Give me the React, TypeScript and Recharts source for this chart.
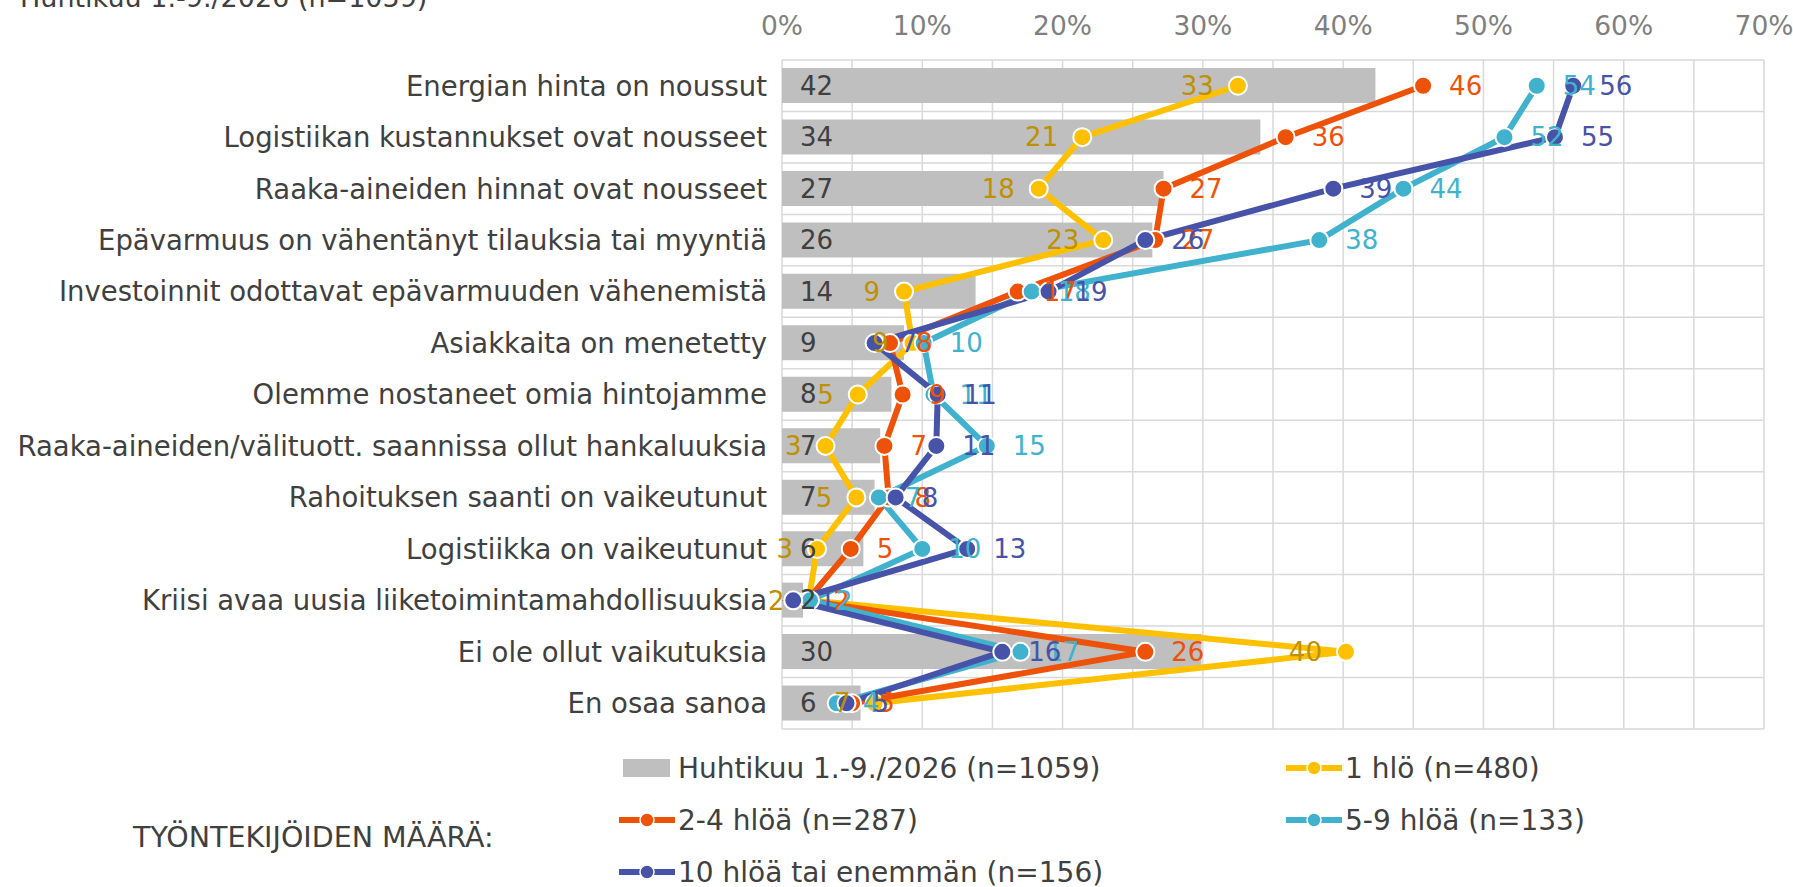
import React from "react";
import {
  Bar,
  CartesianGrid,
  ComposedChart,
  LabelList,
  Legend,
  Line,
  XAxis,
  YAxis,
} from "recharts";

const CATEGORIES = [
  "Energian hinta on noussut",
  "Logistiikan kustannukset ovat nousseet",
  "Raaka-aineiden hinnat ovat nousseet",
  "Epävarmuus on vähentänyt tilauksia tai myyntiä",
  "Investoinnit odottavat epävarmuuden vähenemistä",
  "Asiakkaita on menetetty",
  "Olemme nostaneet omia hintojamme",
  "Raaka-aineiden/välituott. saannissa ollut hankaluuksia",
  "Rahoituksen saanti on vaikeutunut",
  "Logistiikka on vaikeutunut",
  "Kriisi avaa uusia liiketoimintamahdollisuuksia",
  "Ei ole ollut vaikutuksia",
  "En osaa sanoa",
];

// koko aineisto (palkit)
const TOTAL = [42.3, 34.1, 27.2, 26.4, 13.8, 8.7, 7.8, 7.0, 6.6, 5.8, 1.5, 29.9, 5.6];
// työntekijöiden määrän mukaan
const ONE = [32.5, 21.4, 18.3, 22.9, 8.7, 9.3, 5.4, 3.1, 5.3, 2.5, 1.9, 40.2, 6.6];
const TWO_FOUR = [45.7, 35.9, 27.2, 26.6, 16.8, 7.7, 8.6, 7.3, 7.6, 4.9, 1.8, 25.9, 5.0];
const FIVE_NINE = [53.8, 51.5, 44.3, 38.3, 17.8, 10.1, 10.8, 14.6, 6.9, 10.0, 2.0, 17.0, 3.9];
const TEN_PLUS = [56.4, 55.1, 39.3, 25.9, 19.0, 6.6, 11.1, 11.0, 8.1, 13.2, 0.8, 15.7, 4.6];

const X_TICKS = [0, 5, 10, 15, 20, 25, 30, 35, 40, 45, 50, 55, 60, 65, 70];

const BAR_NAME = "Huhtikuu 1.-9./2026 (n=1059)";

const LINES = [
  { key: "one", name: "1 hlö (n=480)", color: "#FFC000", labelColor: "#BF9000", side: "left" },
  { key: "twoFour", name: "2-4 hlöä (n=287)", color: "#EE5208", labelColor: "#EE5208", side: "right" },
  { key: "fiveNine", name: "5-9 hlöä (n=133)", color: "#41B2CD", labelColor: "#41B2CD", side: "right" },
  { key: "tenPlus", name: "10 hlöä tai enemmän (n=156)", color: "#4653A8", labelColor: "#4653A8", side: "right" },
] as const;

const ORDER = ["total", ...LINES.map((l) => l.key)];

const data = CATEGORIES.map((name, i) => ({
  name,
  total: TOTAL[i],
  one: ONE[i],
  twoFour: TWO_FOUR[i],
  fiveNine: FIVE_NINE[i],
  tenPlus: TEN_PLUS[i],
}));

const FONT = '"DejaVu Sans", Verdana, sans-serif';
const TEXT = "#404040";

const roundLabel = (v: unknown) => Math.round(Number(v));

function CategoryTick({ x, y, payload }: any) {
  return (
    <text x={x} y={y} dy="0.36em" textAnchor="end" fill={TEXT} fontSize={27.5} fontFamily={FONT}>
      {payload.value}
    </text>
  );
}

function LegendIcon({ color, isBar }: { color: string; isBar: boolean }) {
  if (isBar) {
    return (
      <svg width={56} height={20}>
        <rect x={4} y={1} width={47} height={18} fill={color} />
      </svg>
    );
  }
  return (
    <svg width={56} height={20}>
      <line x1={0} y1={10} x2={56} y2={10} stroke={color} strokeWidth={6} />
      <circle cx={28} cy={10} r={7} fill={color} stroke="#fff" strokeWidth={1.5} />
    </svg>
  );
}

function renderLegend(props: any) {
  const items = (props.payload ?? [])
    .filter((p: any) => p.type !== "none")
    .sort((a: any, b: any) => ORDER.indexOf(a.dataKey) - ORDER.indexOf(b.dataKey));
  return (
    <div style={{ position: "relative", width: 1793, height: 147, fontFamily: FONT, fontSize: 28, color: TEXT }}>
      <div
        style={{
          position: "absolute",
          left: 133,
          top: 98 - 15,
          lineHeight: "30px",
          fontSize: 28.5,
          whiteSpace: "nowrap",
        }}
      >
        TYÖNTEKIJÖIDEN MÄÄRÄ:
      </div>
      {items.map((item: any, i: number) => {
        const col = i % 2;
        const row = Math.floor(i / 2);
        return (
          <div
            key={item.value}
            style={{
              position: "absolute",
              left: col === 0 ? 619 : 1286,
              top: 28 + row * 52 - 15,
              height: 30,
              display: "flex",
              alignItems: "center",
              gap: 3,
              whiteSpace: "nowrap",
            }}
          >
            <LegendIcon color={item.color} isBar={item.dataKey === "total"} />
            <span>{item.value}</span>
          </div>
        );
      })}
    </div>
  );
}

export default function App() {
  return (
    <div
      style={{
        position: "absolute",
        left: 0,
        top: 0,
        width: 1793,
        height: 887,
        background: "#fff",
        overflow: "hidden",
        fontFamily: FONT,
      }}
    >
      <div
        style={{
          position: "absolute",
          left: 20,
          top: -15,
          fontSize: 27,
          lineHeight: "26px",
          color: TEXT,
          whiteSpace: "nowrap",
        }}
      >
        {BAR_NAME}
      </div>
      <ComposedChart
        width={1793}
        height={887}
        layout="vertical"
        data={data}
        margin={{ top: 0, right: 29, bottom: 158, left: 0 }}
        barSize={35}
      >
        <CartesianGrid
          stroke="#d9d9d9"
          strokeWidth={1.5}
          horizontalCoordinatesGenerator={({ offset }: any) =>
            Array.from(
              { length: CATEGORIES.length + 1 },
              (_, i) => offset.top + (i * offset.height) / CATEGORIES.length
            )
          }
        />
        <XAxis
          type="number"
          orientation="top"
          domain={[0, 70]}
          ticks={X_TICKS}
          interval={0}
          height={60}
          axisLine={false}
          tickLine={false}
          tickSize={0}
          tickMargin={25}
          tickFormatter={(v: number) => (v % 10 === 0 ? `${v}%` : "")}
          tick={{ fill: "#7f7f7f", fontSize: 26.5, fontFamily: FONT }}
        />
        <YAxis
          type="category"
          dataKey="name"
          width={782}
          interval={0}
          axisLine={false}
          tickLine={false}
          tickSize={0}
          tickMargin={15}
          tick={<CategoryTick />}
        />
        <Bar dataKey="total" name={BAR_NAME} fill="#bfbfbf" isAnimationActive={false}>
          <LabelList
            dataKey="total"
            position="insideLeft"
            offset={18}
            formatter={roundLabel}
            fill={TEXT}
            fontSize={26}
            fontFamily={FONT}
          />
        </Bar>
        {LINES.map((s) => (
          <Line
            key={s.key}
            dataKey={s.key}
            name={s.name}
            stroke={s.color}
            strokeWidth={6}
            dot={{ r: 9, fill: s.color, stroke: "#fff", strokeWidth: 2 }}
            activeDot={false}
            isAnimationActive={false}
          />
        ))}
        {LINES.map((s) => (
          <Line
            key={`${s.key}-labels`}
            dataKey={s.key}
            stroke="none"
            dot={false}
            activeDot={false}
            legendType="none"
            isAnimationActive={false}
          >
            <LabelList
              dataKey={s.key}
              position={s.side}
              offset={s.side === "left" ? 24 : 26}
              formatter={roundLabel}
              fill={s.labelColor}
              fontSize={26}
              fontFamily={FONT}
            />
          </Line>
        ))}
        <Legend
          content={renderLegend}
          layout="horizontal"
          verticalAlign="middle"
          align="center"
          wrapperStyle={{ left: 0, top: 740, width: 1793, height: 147 }}
        />
      </ComposedChart>
    </div>
  );
}
